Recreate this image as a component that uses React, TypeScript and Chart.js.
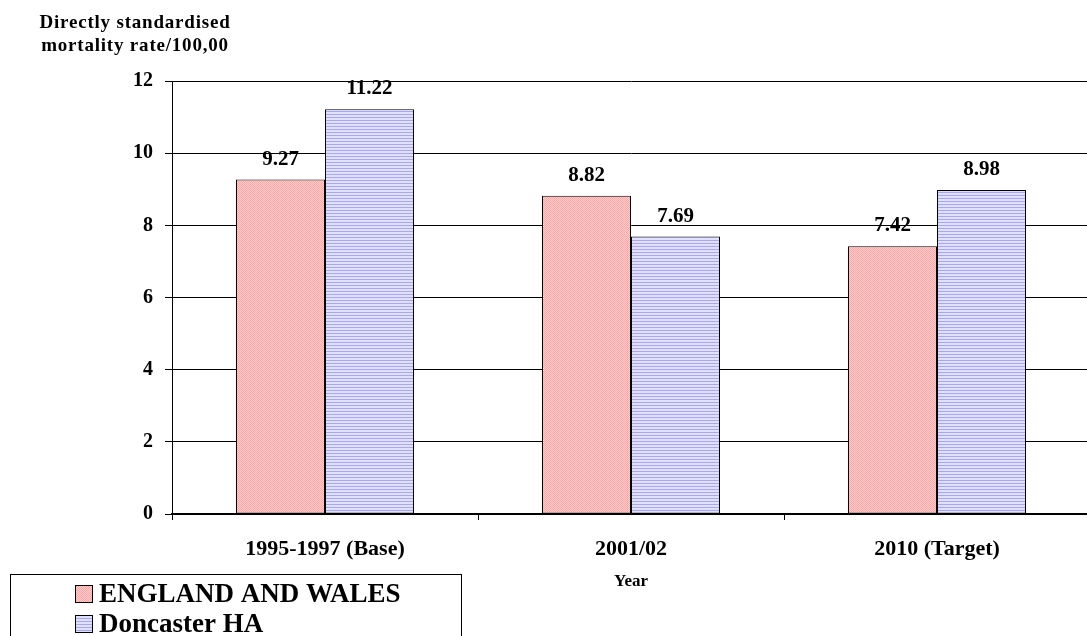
import React, { useEffect, useRef } from "react";
import { Chart, registerables } from "chart.js";

Chart.register(...registerables);

const categories = ["1995-1997 (Base)", "2001/02", "2010 (Target)"];
const englandWales = [9.27, 8.82, 7.42];
const doncaster = [11.22, 7.69, 8.98];
const seriesNames = ["ENGLAND AND WALES", "Doncaster HA"];
const yTitleLines = ["Directly standardised", "mortality rate/100,00"];
const xTitle = "Year";

const SERIF = "'Liberation Serif', 'Times New Roman', serif";

function makePinkPattern(): CanvasPattern | string {
  const c = document.createElement("canvas");
  c.width = 2;
  c.height = 2;
  const g = c.getContext("2d");
  if (!g) return "#ffbaba";
  g.fillStyle = "#ffcaca";
  g.fillRect(0, 0, 2, 2);
  g.fillStyle = "#ffa8a8";
  g.fillRect(0, 0, 1, 1);
  g.fillRect(1, 1, 1, 1);
  return g.createPattern(c, "repeat") || "#ffbaba";
}

function makeBluePattern(): CanvasPattern | string {
  const c = document.createElement("canvas");
  c.width = 3;
  c.height = 3;
  const g = c.getContext("2d");
  if (!g) return "#c8c8f4";
  g.fillStyle = "#e0e0fc";
  g.fillRect(0, 0, 3, 3);
  g.fillStyle = "#a8a8ee";
  g.fillRect(0, 0, 3, 1);
  return g.createPattern(c, "repeat") || "#c8c8f4";
}

// Value labels above each bar
const valueLabels = {
  id: "valueLabels",
  afterDatasetsDraw(chart: any) {
    const ctx = chart.ctx;
    ctx.save();
    ctx.fillStyle = "#000";
    ctx.font = `bold 21px ${SERIF}`;
    ctx.textAlign = "center";
    ctx.textBaseline = "alphabetic";
    chart.data.datasets.forEach((ds: any, i: number) => {
      const meta = chart.getDatasetMeta(i);
      meta.data.forEach((bar: any, j: number) => {
        ctx.fillText(Number(ds.data[j]).toFixed(2), bar.x, bar.y - 15);
      });
    });
    ctx.restore();
  },
};

// Axis titles and the boxed legend
const decorations = {
  id: "decorations",
  afterDraw(chart: any) {
    const ctx = chart.ctx;
    const area = chart.chartArea;
    ctx.save();
    ctx.fillStyle = "#000";
    ctx.textAlign = "center";
    ctx.textBaseline = "alphabetic";
    ctx.font = `bold 19px ${SERIF}`;
    (ctx as any).letterSpacing = "0.8px";
    ctx.fillText(yTitleLines[0], 135, 28);
    ctx.fillText(yTitleLines[1], 135, 51);
    (ctx as any).letterSpacing = "0px";

    ctx.font = `bold 17px ${SERIF}`;
    ctx.fillText(xTitle, (area.left + area.right) / 2, 586);

    // legend box
    ctx.strokeStyle = "#000";
    ctx.lineWidth = 1;
    ctx.strokeRect(10.5, 574.5, 451, 80);
    ctx.font = `bold 27px ${SERIF}`;
    ctx.textAlign = "left";
    chart.data.datasets.forEach((ds: any, i: number) => {
      const y = 585 + i * 30;
      ctx.fillStyle = ds.backgroundColor;
      ctx.fillRect(75, y, 17, 17);
      ctx.strokeStyle = "#000";
      ctx.strokeRect(75.5, y + 0.5, 17, 17);
      ctx.fillStyle = "#000";
      ctx.fillText(ds.label, 99, y + 17);
    });
    ctx.restore();
  },
};

export default function App() {
  const canvasRef = useRef<HTMLCanvasElement | null>(null);

  useEffect(() => {
    if (!canvasRef.current) return;
    const pink = makePinkPattern();
    const blue = makeBluePattern();
    const chart = new Chart(canvasRef.current, {
      type: "bar",
      data: {
        labels: categories,
        datasets: [
          {
            label: seriesNames[0],
            data: englandWales,
            backgroundColor: pink as any,
            borderColor: "#000",
            borderWidth: 1,
            borderSkipped: false,
          },
          {
            label: seriesNames[1],
            data: doncaster,
            backgroundColor: blue as any,
            borderColor: "#000",
            borderWidth: 1,
            borderSkipped: false,
          },
        ],
      },
      options: {
        responsive: false,
        animation: false,
        events: [],
        layout: { padding: { left: 0, top: 81, right: 10, bottom: 0 } },
        datasets: {
          bar: { categoryPercentage: 178 / 306, barPercentage: 1.0 },
        },
        plugins: {
          legend: { display: false },
          tooltip: { enabled: false },
          title: { display: false },
        },
        scales: {
          x: {
            afterFit: (s: any) => {
              s.height = 122;
            },
            grid: {
              display: true,
              drawOnChartArea: false,
              drawTicks: true,
              tickLength: 6,
              color: "#000",
              tickColor: "#000",
              offset: true,
            },
            border: { display: true, color: "#000", width: 2 },
            ticks: {
              color: "#000",
              font: { family: SERIF, size: 22, weight: "bold" },
              padding: 16,
              maxRotation: 0,
            },
          },
          y: {
            min: 0,
            max: 12,
            afterFit: (s: any) => {
              s.width = 172;
            },
            grid: {
              color: "#000",
              tickColor: "#000",
              lineWidth: 1,
              tickLength: 7,
            },
            border: { display: true, color: "#000", width: 1 },
            ticks: {
              stepSize: 2,
              color: "#000",
              padding: 12,
              font: { family: SERIF, size: 20, weight: "bold" },
            },
          },
        },
      },
      plugins: [valueLabels, decorations],
    });
    return () => chart.destroy();
  }, []);

  return (
    <div
      style={{
        position: "fixed",
        left: 0,
        top: 0,
        width: 1087,
        height: 636,
        overflow: "hidden",
        background: "#fff",
      }}
    >
      <canvas ref={canvasRef} width={1100} height={636} style={{ display: "block" }} />
    </div>
  );
}
